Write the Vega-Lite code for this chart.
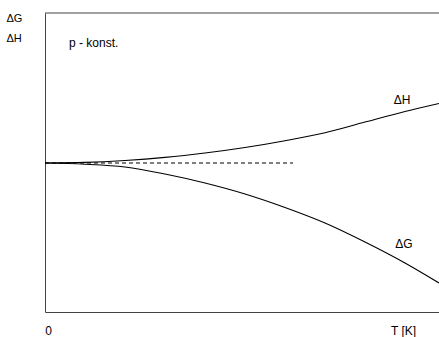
{
  "$schema": "https://vega.github.io/schema/vega-lite/v6.json",
  "width": 394,
  "height": 299,
  "autosize": {"type": "none"},
  "padding": {"left": 45, "top": 13, "right": 0, "bottom": 25},
  "config": {
    "view": {"stroke": null},
    "font": "Liberation Sans",
    "text": {"font": "Liberation Sans"}
  },
  "datasets": {
    "curves": [
      {"T": 0, "v": 149, "s": "ΔH"}, {"T": 40, "v": 149.6, "s": "ΔH"}, {"T": 80, "v": 151.5, "s": "ΔH"},
      {"T": 120, "v": 154.6, "s": "ΔH"}, {"T": 160, "v": 159, "s": "ΔH"}, {"T": 200, "v": 164.5, "s": "ΔH"},
      {"T": 240, "v": 171.3, "s": "ΔH"}, {"T": 280, "v": 179.3, "s": "ΔH"}, {"T": 320, "v": 190, "s": "ΔH"},
      {"T": 360, "v": 200.5, "s": "ΔH"}, {"T": 394, "v": 208.5, "s": "ΔH"},
      {"T": 0, "v": 149, "s": "ΔG"}, {"T": 40, "v": 147.8, "s": "ΔG"}, {"T": 80, "v": 145, "s": "ΔG"},
      {"T": 120, "v": 138, "s": "ΔG"}, {"T": 160, "v": 129, "s": "ΔG"}, {"T": 200, "v": 118, "s": "ΔG"},
      {"T": 240, "v": 104.5, "s": "ΔG"}, {"T": 280, "v": 89, "s": "ΔG"}, {"T": 320, "v": 70, "s": "ΔG"},
      {"T": 360, "v": 49, "s": "ΔG"}, {"T": 394, "v": 29, "s": "ΔG"}
    ],
    "dashed": [{"T": 0, "v": 149}, {"T": 248, "v": 149}],
    "frame": [{"T": 0, "T2": 394, "v": 299}],
    "labels": [
      {"T": 357, "v": 208, "label": "ΔH"},
      {"T": 359, "v": 64, "label": "ΔG"}
    ],
    "note": [{"T": 24, "v": 265, "label": "p - konst."}]
  },
  "layer": [
    {
      "data": {"name": "curves"},
      "mark": {"type": "line", "color": "black", "strokeWidth": 1.1, "interpolate": "monotone"},
      "encoding": {
        "x": {
          "field": "T", "type": "quantitative",
          "scale": {"domain": [0, 394], "nice": false, "zero": false},
          "axis": {
            "title": null, "grid": false, "ticks": false, "tickSize": 0,
            "values": [3, 358],
            "labelExpr": "datum.value < 10 ? '0' : 'T [K]'",
            "labelFontSize": 12, "labelColor": "black", "labelFont": "Liberation Sans",
            "labelPadding": 13, "labelBaseline": "top", "labelFlush": false,
            "domainColor": "#444", "domainWidth": 1
          }
        },
        "y": {
          "field": "v", "type": "quantitative",
          "scale": {"domain": [0, 299], "nice": false, "zero": false},
          "axis": {
            "title": null, "grid": false, "ticks": false, "tickSize": 0,
            "values": [273.7, 293.7],
            "labelExpr": "datum.value > 290 ? 'ΔG' : 'ΔH'",
            "labelFontSize": 11, "labelColor": "black", "labelFont": "Liberation Sans",
            "labelAlign": "left", "labelPadding": 39, "labelFlush": false,
            "domainColor": "#444", "domainWidth": 1
          }
        },
        "detail": {"field": "s", "type": "nominal"}
      }
    },
    {
      "data": {"name": "dashed"},
      "mark": {"type": "line", "color": "black", "strokeWidth": 1, "strokeDash": [4, 3]},
      "encoding": {
        "x": {"field": "T", "type": "quantitative"},
        "y": {"field": "v", "type": "quantitative"}
      }
    },
    {
      "data": {"name": "frame"},
      "mark": {"type": "rule", "color": "#444", "strokeWidth": 1},
      "encoding": {
        "x": {"field": "T", "type": "quantitative"},
        "x2": {"field": "T2"},
        "y": {"field": "v", "type": "quantitative"}
      }
    },
    {
      "data": {"name": "labels"},
      "mark": {"type": "text", "fontSize": 12, "align": "center", "baseline": "alphabetic", "color": "black", "font": "Liberation Sans"},
      "encoding": {
        "x": {"field": "T", "type": "quantitative"},
        "y": {"field": "v", "type": "quantitative"},
        "text": {"field": "label"}
      }
    },
    {
      "data": {"name": "note"},
      "mark": {"type": "text", "fontSize": 12, "align": "left", "baseline": "alphabetic", "color": "black", "font": "Liberation Sans"},
      "encoding": {
        "x": {"field": "T", "type": "quantitative"},
        "y": {"field": "v", "type": "quantitative"},
        "text": {"field": "label"}
      }
    }
  ]
}
